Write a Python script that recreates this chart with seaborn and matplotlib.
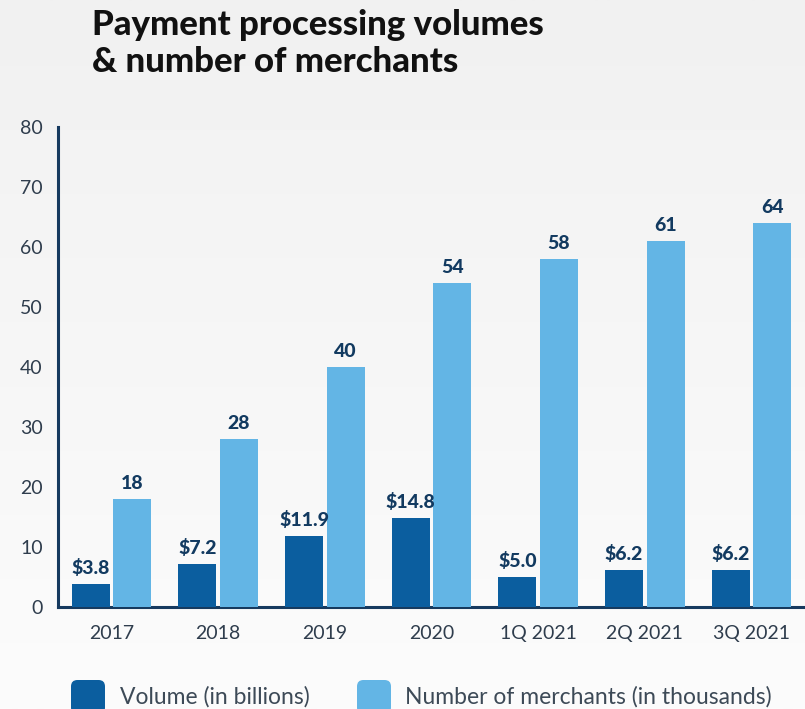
import matplotlib
matplotlib.use("Agg")
import matplotlib.pyplot as plt
import seaborn as sns
import pandas as pd
import numpy as np
from matplotlib.patches import FancyBboxPatch
from matplotlib.ticker import FixedLocator
from matplotlib.colors import LinearSegmentedColormap

categories = ["2017", "2018", "2019", "2020", "1Q 2021", "2Q 2021", "3Q 2021"]
volume = [3.8, 7.2, 11.9, 14.8, 5.0, 6.2, 6.2]
merchants = [18, 28, 40, 54, 58, 61, 64]
series_names = ["Volume (in billions)", "Number of merchants (in thousands)"]
title_lines = ["Payment processing volumes", "& number of merchants"]
yticks = [0, 10, 20, 30, 40, 50, 60, 70, 80]

DARK = "#0b5e9f"
LIGHT = "#63b5e5"
NAVY = "#163a5f"
LABEL = "#123a60"
TICK = "#2f3d4d"

df = pd.DataFrame({
    "category": categories * 2,
    "series": [series_names[0]] * len(categories) + [series_names[1]] * len(categories),
    "value": volume + merchants,
})

sns.set_theme(style="white")
plt.rcParams["font.family"] = ["Lato", "DejaVu Sans"]

W, H = 805, 709
fig = plt.figure(figsize=(W / 100, H / 100), dpi=100)

# background gradient
bg = fig.add_axes([0, 0, 1, 1], zorder=-10)
grad = np.linspace(0, 1, 256).reshape(-1, 1)
cmap = LinearSegmentedColormap.from_list("bg", ["#f1f1f1", "#fcfcfc"])
bg.imshow(grad, aspect="auto", cmap=cmap, extent=[0, 1, 0, 1], origin="upper")
bg.axis("off")

ax = fig.add_axes([58 / W, 1 - 607 / H, (W - 58) / W, (607 - 127) / H])
ax.set_facecolor("none")

sns.barplot(data=df, x="category", y="value", hue="series",
            palette=[DARK, LIGHT], width=0.78, gap=0.085,
            legend=False, ax=ax, zorder=3, saturation=1, linewidth=0)

for i, cont in enumerate(ax.containers):
    fmt = "${:.1f}" if i == 0 else "{:.0f}"
    ax.bar_label(cont, labels=[fmt.format(v) for v in cont.datavalues],
                 padding=5, fontsize=14, fontweight="black", color=LABEL)

ax.set_xlim(-0.5, 6.5)
ax.set_ylim(0, 80)
ax.set_yticks(yticks)
ax.set_xlabel("")
ax.set_ylabel("")

for s in ["top", "right"]:
    ax.spines[s].set_visible(False)
for s in ["left", "bottom"]:
    ax.spines[s].set_color(NAVY)
    ax.spines[s].set_linewidth(2.2)
    ax.spines[s].set_zorder(2)

ax.tick_params(axis="y", direction="in", length=14.5, width=2.2, color=NAVY,
               labelsize=14, labelcolor=TICK, pad=11)
ax.tick_params(axis="x", which="major", length=0, labelsize=14,
               labelcolor=TICK, pad=13)
ax.xaxis.set_minor_locator(FixedLocator(np.arange(0.5, 7, 1.0)))
ax.tick_params(axis="x", which="minor", direction="in", length=8.5, width=1.8,
               color=NAVY)

for line, base in zip(title_lines, [35, 72]):
    fig.text(92 / W, 1 - base / H, line, ha="left", va="baseline",
             fontsize=25, fontweight="black", color="#111111")

# legend
for (x0, col, txt, tx) in [(71, DARK, series_names[0], 120),
                           (357, LIGHT, series_names[1], 405)]:
    p = FancyBboxPatch((x0 / W, 1 - 714 / H), 34 / W, 34 / H,
                       boxstyle="round,pad=0,rounding_size=0.008",
                       transform=fig.transFigure, facecolor=col,
                       edgecolor="none", mutation_aspect=W / H)
    fig.patches.append(p)
    fig.text(tx / W, 1 - 697 / H, txt, ha="left", va="center",
             fontsize=16.5, color="#3d4a57")

fig.savefig("out.png", dpi=100)
